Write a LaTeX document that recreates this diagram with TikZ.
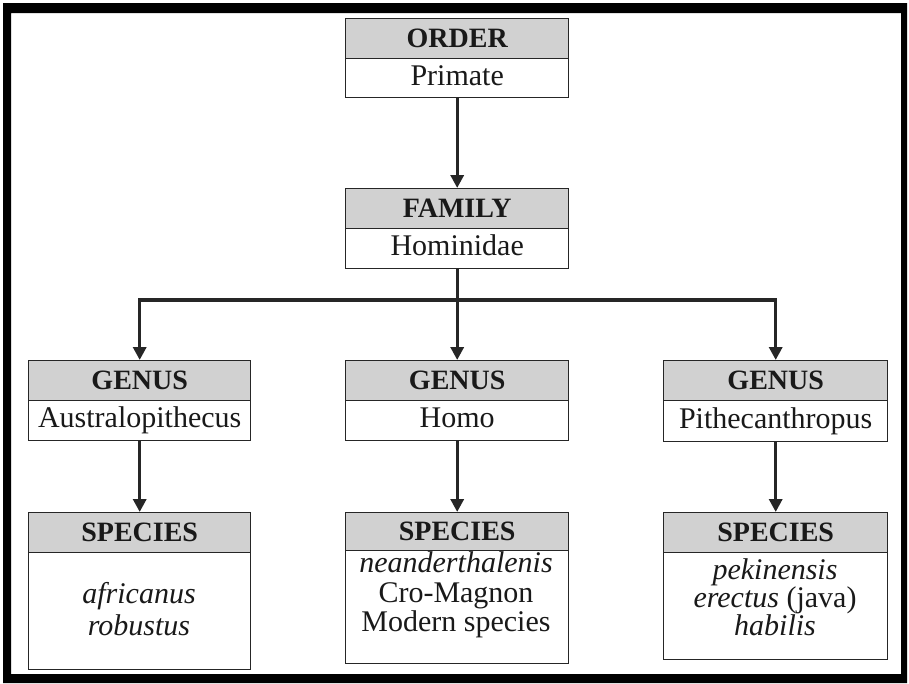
\documentclass[tikz,border=0pt]{standalone}
\usepackage{fontspec}
\setmainfont{Liberation Serif}
\usetikzlibrary{arrows.meta}
\begin{document}
\begin{tikzpicture}[x=1pt,y=-1pt,
  hdr/.style={draw=black!85, line width=1.4pt, fill=black!18, anchor=north west, inner sep=0pt,
    text height=19pt, text depth=1pt,
    font=\fontsize{28}{28}\selectfont\bfseries, text=black!90},
  bdy/.style={draw=black!85, line width=1.4pt, fill=white, anchor=north west, inner sep=0pt,
    text height=20pt, text depth=6pt,
    font=\fontsize{30}{30}\selectfont, text=black!90},
  txt/.style={font=\fontsize{30}{31}\selectfont, align=center, inner sep=0pt, text=black!90},
  arr/.style={line width=3.3pt, draw=black!85, line join=miter, -{Triangle[width=13pt,length=13pt]}},
  link/.style={line width=3.3pt, draw=black!85}
]
\useasboundingbox (0,0) rectangle (909,683);
\fill[white] (0,0) rectangle (909,683);
\fill[black, even odd rule] (3,3) rectangle (907,683) (11,13) rectangle (901,674);

% ORDER
\node[hdr, minimum width=223pt, minimum height=40pt] (oh) at (345,18) {ORDER};
\node[bdy, minimum width=223pt, minimum height=39pt] (ob) at (345,58) {Primate};
% FAMILY
\node[hdr, minimum width=223pt, minimum height=40pt] (fh) at (345,188) {FAMILY};
\node[bdy, minimum width=223pt, minimum height=40pt] (fb) at (345,228) {Hominidae};
% GENUS
\node[hdr, minimum width=222pt, minimum height=40pt] (g1h) at (28,360) {GENUS};
\node[bdy, minimum width=222pt, minimum height=40pt] (g1b) at (28,400) {Australopithecus};
\node[hdr, minimum width=223pt, minimum height=40pt] (g2h) at (345,360) {GENUS};
\node[bdy, minimum width=223pt, minimum height=40pt] (g2b) at (345,400) {Homo};
\node[hdr, minimum width=224pt, minimum height=40pt] (g3h) at (663,360) {GENUS};
\node[bdy, minimum width=224pt, minimum height=41pt] (g3b) at (663,400) {Pithecanthropus};
% SPECIES
\node[hdr, minimum width=222pt, minimum height=40pt] (s1h) at (28,512) {SPECIES};
\node[bdy, minimum width=222pt, minimum height=117pt] (s1b) at (28,552) {};
\node[hdr, minimum width=223pt, minimum height=38pt] (s2h) at (345,512) {SPECIES};
\node[bdy, minimum width=223pt, minimum height=113pt] (s2b) at (345,550) {};
\node[hdr, minimum width=224pt, minimum height=40pt] (s3h) at (663,512) {SPECIES};
\node[bdy, minimum width=224pt, minimum height=107pt] (s3b) at (663,552) {};

\node[txt, font=\fontsize{30}{32}\selectfont] (s1t) at (139,609) {\textit{africanus}\\\textit{robustus}};
\node[txt, font=\fontsize{30}{29.5}\selectfont] (s2t) at (456,595) {\textit{neanderthalenis}\\Cro-Magnon\\Modern species};
\node[txt, font=\fontsize{30}{26}\selectfont] (s3t) at (775,597) {\textit{pekinensis}\\\textit{erectus} (java)\\\textit{habilis}};

% connectors
\draw[arr] (ob.south) -- (fh.north);
\coordinate (j) at (fb.south |- 0,300);
\draw[arr] (fb.south) -- (g2h.north);
\draw[arr] (j) -| (g1h.north);
\draw[arr] (j) -| (g3h.north);
\draw[arr] (g1b.south) -- (s1h.north);
\draw[arr] (g2b.south) -- (s2h.north);
\draw[arr] (g3b.south) -- (s3h.north);
\end{tikzpicture}
\end{document}
